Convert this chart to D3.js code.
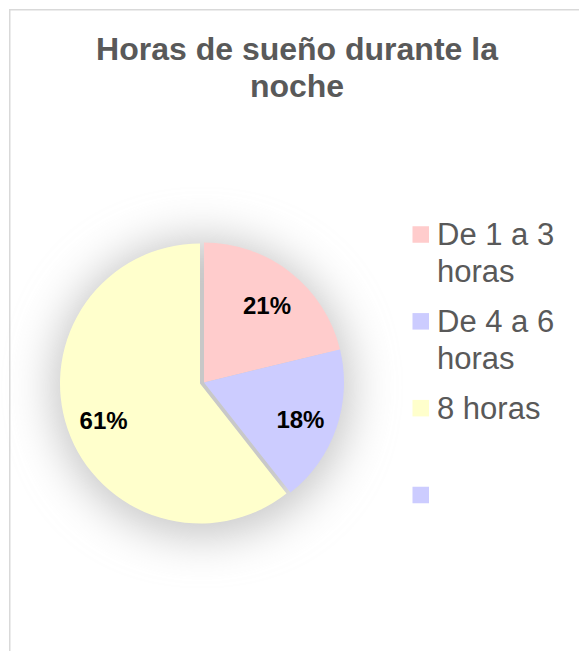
<!DOCTYPE html>
<html>
<head>
<meta charset="utf-8">
<script src="https://cdnjs.cloudflare.com/ajax/libs/d3/7.8.5/d3.min.js"></script>
<style>
  body { margin: 0; background: white; }
  svg { display: block; font-family: "Liberation Sans", Arial, sans-serif; }
</style>
</head>
<body>
<script>
'use strict';

// chart data
const categories = ["De 1 a 3 horas", "De 4 a 6 horas", "8 horas", ""];
const values = [21.2, 18.2, 60.6, 0];
const colors = ["#FFCCCC", "#CCCCFF", "#FFFFCC", "#CCCCFF"];
const titleLines = ["Horas de sueño durante la", "noche"];

(function () {

  let svgContainer = ""; // keep SVG reference in global scope

  window.onload = function () {
    svgContainer = d3.select('body')
      .append('svg')
      .attr('width', 579)
      .attr('height', 651);

    // chart frame, runs off the right and bottom of the picture
    svgContainer.append('rect')
      .attr('x', 9.75)
      .attr('y', 9.75)
      .attr('width', 620)
      .attr('height', 700)
      .style('fill', 'white')
      .style('stroke', '#d9d9d9')
      .style('stroke-width', 1.5);

    makeTitle();
    drawPie();
    makeLegend();
  }

  function makeTitle() {
    svgContainer.selectAll('.title')
      .data(titleLines)
      .enter()
      .append('text')
      .attr('class', 'title')
      .attr('x', 297)
      .attr('y', (d, i) => 60 + i * 37)
      .attr('text-anchor', 'middle')
      .style('font-size', '32px')
      .style('font-weight', 'bold')
      .style('fill', '#595959')
      .text((d) => d);
  }

  function drawPie() {
    let cx = 200, cy = 383.5, radius = 140;
    let total = d3.sum(values);

    // soft shadow under the pie
    let defs = svgContainer.append('defs');
    defs.append('filter')
      .attr('id', 'shadow')
      .attr('x', '-50%').attr('y', '-50%')
      .attr('width', '200%').attr('height', '200%')
      .append('feGaussianBlur')
      .attr('stdDeviation', 22);

    svgContainer.append('circle')
      .attr('cx', cx + 2)
      .attr('cy', cy + 4)
      .attr('r', radius + 10)
      .style('fill', '#c8c8c8')
      .attr('filter', 'url(#shadow)');

    let pie = d3.pie().sort(null).value((d) => d);
    let arcs = pie(values);

    let arc = d3.arc().innerRadius(0).outerRadius(radius);
    let labelArc = d3.arc().innerRadius(102).outerRadius(102);
    let pct = d3.format('.0%');

    // first two slices are pulled out a little
    let offset = function (i) { return i < 2 ? [4, -1] : [0, 0]; };

    let slices = svgContainer.selectAll('.slice')
      .data(arcs)
      .enter()
      .append('g')
      .attr('class', 'slice')
      .attr('transform', (d, i) => 'translate(' + (cx + offset(i)[0]) + ',' + (cy + offset(i)[1]) + ')');

    slices.append('path')
      .attr('d', arc)
      .style('fill', (d, i) => colors[i]);

    slices.filter((d) => d.value > 0)
      .append('text')
      .attr('transform', (d) => 'translate(' + labelArc.centroid(d) + ')')
      .attr('text-anchor', 'middle')
      .attr('dy', '0.5em')
      .style('font-size', '24px')
      .style('font-weight', 'bold')
      .style('fill', 'black')
      .text((d) => pct(d.value / total));
  }

  function makeLegend() {
    let yScale = d3.scalePoint()
      .domain(d3.range(categories.length))
      .range([234.5, 495]);

    let items = svgContainer.selectAll('.legend')
      .data(categories)
      .enter()
      .append('g')
      .attr('class', 'legend')
      .attr('transform', (d, i) => 'translate(412.5,' + yScale(i) + ')');

    items.append('rect')
      .attr('x', 0)
      .attr('y', -8.25)
      .attr('width', 16.5)
      .attr('height', 16.5)
      .style('fill', (d, i) => colors[i]);

    items.append('text')
      .attr('x', 24.5)
      .attr('y', 10.5)
      .style('font-size', '31px')
      .style('fill', '#595959')
      .each(function (d) { wrapText(d3.select(this), d, 135, 37); });
  }

  // split legend labels over several lines
  function wrapText(textSel, str, maxWidth, lineHeight) {
    let words = str.split(' ').filter((w) => w.length > 0);
    let line = [];
    let tspan = textSel.append('tspan').attr('x', 24.5).attr('dy', 0);
    words.forEach(function (w) {
      line.push(w);
      tspan.text(line.join(' '));
      if (tspan.node().getComputedTextLength() > maxWidth && line.length > 1) {
        line.pop();
        tspan.text(line.join(' '));
        line = [w];
        tspan = textSel.append('tspan').attr('x', 24.5).attr('dy', lineHeight).text(w);
      }
    });
  }

})();
</script>
</body>
</html>
